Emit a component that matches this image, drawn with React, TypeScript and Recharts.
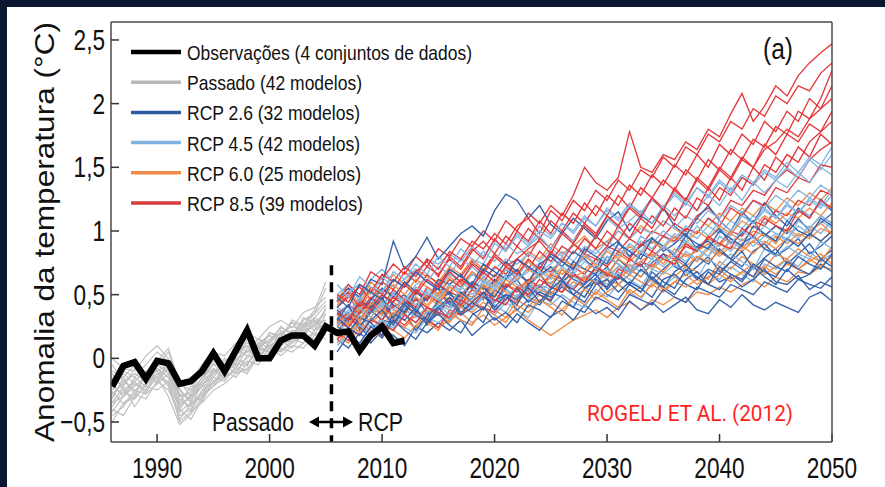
import { LineChart, Line, XAxis, YAxis, ReferenceLine } from 'recharts';

// Temperature anomaly (°C, relative to 1986–2005), values stored in hundredths of a degree.
const YEAR_FIRST = 1986;
const YEAR_LAST = 2050;
const PAST_FIRST = 1986;
const RCP_FIRST = 2006;

const xTicks = [1990, 2000, 2010, 2020, 2030, 2040, 2050];
const yTicks = [-0.5, 0, 0.5, 1, 1.5, 2, 2.5];

// observations, 1986–2012
const observed = [
  -22, -6, -3, -16, -2, -4, -20, -18, -10, 4, -10, 6, 22, 0, 0, 14, 18, 18, 10, 25, 20, 21, 6, 18, 25, 12, 14,
];

// historical model runs, 1986–2005
const pastRuns = [
  [-28, -20, -12, -18, -8, -15, -38, -30, -18, -10, -14, -2, 6, 2, 10, 16, 12, 20, 26, 30],
  [-35, -30, -22, -15, -10, -20, -45, -40, -25, -20, -8, -5, 0, 8, 5, 15, 22, 18, 28, 35],
  [-18, -10, -15, -5, 5, -2, -30, -28, -15, -5, -10, 5, 12, 8, 15, 20, 25, 22, 30, 22],
  [-45, -38, -25, -28, -20, -12, -40, -48, -32, -18, -15, -10, -2, -5, 8, 5, 12, 18, 15, 25],
  [-22, -28, -18, -10, -15, -5, -25, -35, -28, -12, -5, -8, 8, 15, 10, 12, 20, 28, 22, 40],
  [-30, -18, -25, -20, -5, -10, -35, -22, -20, -15, -2, 0, -5, 10, 18, 12, 18, 25, 30, 18],
  [-10, -15, -5, -12, -2, 8, -20, -25, -10, 0, -5, 10, 5, 15, 12, 25, 18, 30, 35, 45],
  [-40, -45, -30, -22, -25, -18, -50, -42, -35, -25, -20, -12, -8, 0, -2, 8, 5, 12, 20, 15],
  [-25, -12, -20, -25, -12, -8, -28, -32, -22, -8, -12, 2, 10, 5, 20, 18, 28, 25, 35, 55],
  [-15, -22, -8, -15, -10, -5, -32, -38, -20, -12, 0, -5, 15, 10, 5, 22, 15, 32, 28, 30],
  [-50, -35, -28, -32, -18, -25, -42, -35, -28, -22, -15, -8, -12, 2, 8, 2, 10, 8, 18, 22],
  [0, -8, -10, 2, 10, 0, -22, -18, -5, 5, 2, 12, 20, 15, 25, 30, 24, 36, 40, 48],
  [-38, -25, -32, -20, -12, -22, -48, -36, -30, -15, -18, -6, -10, 5, 2, 10, 15, 12, 22, 28],
  [-20, -30, -15, -22, -8, -15, -28, -42, -25, -10, -15, 0, 5, 12, 18, 14, 20, 26, 18, 35],
  [-32, -15, -28, -10, -18, -8, -36, -30, -22, -20, -5, -12, 2, 0, 12, 20, 16, 24, 32, 26],
  [-12, -25, -18, -28, -5, -12, -24, -34, -18, -4, -8, 8, 2, 12, 8, 18, 28, 20, 26, 38],
  [-42, -30, -20, -25, -15, -30, -52, -44, -30, -22, -10, -15, -4, 5, 10, 6, 14, 22, 25, 20],
  [-26, -36, -30, -12, -20, -2, -30, -26, -15, -8, -16, 4, 10, -2, 14, 24, 20, 15, 32, 42],
  [-5, -18, -12, -18, -6, 5, -18, -30, -15, -2, -8, 2, 18, 8, 20, 16, 30, 26, 38, 60],
  [-35, -22, -38, -25, -15, -18, -40, -28, -34, -18, -12, -4, -6, 10, 4, 14, 8, 20, 14, 28],
];

// scenario runs, 2006–2050
const rcp26 = [
  [28, 36, 22, 40, 45, 30, 38, 48, 35, 44, 52, 40, 47, 58, 44, 55, 62, 48, 57, 50, 60, 68, 55, 63, 72, 58, 66, 74, 62, 70, 78, 65, 72, 80, 68, 76, 84, 70, 79, 86, 74, 82, 90, 78, 85],
  [15, 8, 20, 12, 22, 18, 10, 25, 20, 28, 22, 30, 18, 26, 32, 24, 35, 28, 22, 33, 38, 30, 42, 35, 40, 32, 45, 38, 44, 36, 42, 48, 38, 35, 46, 40, 50, 42, 38, 44, 40, 36, 48, 52, 45],
  [45, 55, 48, 62, 58, 92, 70, 80, 95, 78, 88, 98, 104, 96, 116, 129, 124, 110, 120, 105, 98, 110, 102, 94, 108, 115, 100, 112, 106, 118, 104, 96, 110, 120, 108, 100, 115, 106, 122, 112, 104, 118, 110, 125, 116],
  [35, 28, 42, 38, 30, 45, 50, 36, 48, 55, 42, 50, 58, 46, 62, 54, 48, 60, 66, 55, 70, 62, 58, 72, 65, 78, 70, 64, 75, 82, 72, 68, 80, 74, 86, 78, 72, 84, 90, 80, 86, 94, 82, 88, 96],
  [20, 32, 25, 15, 30, 28, 36, 22, 34, 40, 30, 42, 36, 28, 45, 50, 38, 46, 42, 52, 48, 40, 55, 60, 50, 46, 58, 52, 64, 56, 50, 62, 68, 58, 54, 66, 60, 72, 64, 58, 70, 62, 66, 74, 68],
  [40, 50, 35, 46, 55, 48, 60, 52, 45, 62, 58, 66, 55, 70, 64, 76, 68, 60, 74, 80, 72, 84, 78, 70, 86, 92, 80, 88, 95, 84, 90, 98, 86, 94, 102, 90, 98, 108, 96, 104, 98, 110, 100, 106, 114],
  [25, 20, 32, 28, 18, 35, 30, 40, 26, 38, 45, 34, 40, 50, 38, 46, 55, 44, 52, 48, 56, 50, 44, 58, 62, 52, 60, 55, 48, 62, 66, 58, 54, 68, 60, 64, 56, 62, 70, 60, 58, 65, 54, 60, 56],
  [38, 30, 45, 40, 50, 42, 36, 52, 46, 58, 50, 45, 60, 55, 48, 62, 70, 58, 65, 72, 62, 76, 70, 66, 80, 74, 68, 82, 78, 88, 80, 74, 88, 92, 84, 78, 90, 96, 86, 82, 94, 88, 98, 92, 100],
  [30, 42, 25, 36, 48, 32, 44, 38, 30, 46, 40, 52, 44, 38, 54, 48, 42, 58, 50, 45, 60, 54, 48, 62, 56, 66, 58, 52, 68, 60, 55, 70, 64, 58, 72, 66, 62, 74, 68, 64, 76, 70, 66, 78, 72],
  [5, 18, 12, 25, 16, 30, 22, 15, 28, 35, 26, 20, 34, 40, 30, 36, 28, 42, 38, 32, 45, 40, 36, 48, 44, 38, 50, 46, 42, 54, 48, 44, 56, 52, 48, 58, 54, 50, 60, 56, 52, 62, 58, 55, 64],
  [48, 40, 58, 52, 46, 62, 56, 68, 60, 54, 70, 64, 58, 74, 68, 62, 78, 72, 66, 82, 76, 70, 86, 80, 74, 90, 84, 78, 94, 88, 82, 96, 90, 86, 100, 94, 88, 104, 98, 92, 108, 100, 96, 110, 104],
  [32, 24, 18, 30, 38, 26, 42, 34, 28, 40, 48, 36, 44, 52, 40, 50, 46, 56, 44, 54, 62, 50, 58, 66, 54, 64, 58, 70, 62, 56, 68, 74, 62, 70, 66, 76, 70, 64, 78, 72, 68, 80, 74, 70, 82],
];

const rcp45 = [
  [32, 26, 38, 44, 35, 48, 40, 52, 46, 55, 50, 60, 54, 64, 58, 70, 62, 68, 75, 66, 80, 72, 78, 86, 76, 90, 84, 92, 86, 96, 90, 100, 94, 104, 98, 108, 102, 112, 106, 116, 108, 118, 112, 122, 116],
  [50, 58, 45, 62, 70, 60, 72, 66, 78, 74, 82, 76, 88, 80, 92, 86, 98, 90, 104, 96, 106, 100, 112, 104, 118, 110, 122, 114, 126, 118, 128, 120, 134, 126, 138, 130, 142, 136, 146, 140, 150, 142, 156, 148, 160],
  [15, 22, 10, 26, 18, 30, 24, 20, 32, 28, 36, 30, 26, 40, 34, 44, 38, 32, 46, 42, 50, 44, 40, 54, 48, 58, 52, 46, 60, 56, 64, 58, 54, 68, 62, 72, 66, 60, 74, 70, 78, 72, 84, 76, 82],
  [40, 35, 48, 42, 55, 50, 46, 58, 62, 54, 66, 60, 72, 64, 70, 78, 74, 82, 76, 86, 80, 90, 84, 96, 88, 100, 94, 102, 98, 108, 102, 112, 106, 116, 110, 120, 114, 124, 118, 128, 122, 132, 126, 136, 130],
  [22, 30, 26, 18, 34, 30, 38, 34, 28, 42, 38, 46, 42, 50, 44, 54, 48, 58, 52, 60, 56, 64, 60, 68, 62, 72, 66, 76, 70, 80, 74, 84, 78, 88, 82, 92, 86, 96, 90, 98, 94, 104, 98, 108, 102],
  [36, 42, 30, 46, 40, 52, 44, 56, 50, 46, 58, 54, 66, 60, 56, 70, 64, 76, 68, 74, 84, 76, 88, 82, 92, 86, 80, 96, 90, 100, 94, 104, 98, 110, 102, 96, 112, 106, 116, 110, 120, 114, 124, 118, 128],
  [28, 20, 34, 24, 30, 22, 38, 32, 40, 36, 30, 44, 38, 48, 42, 36, 50, 46, 56, 50, 60, 54, 48, 62, 58, 68, 62, 56, 70, 66, 74, 68, 62, 78, 72, 82, 76, 70, 86, 80, 88, 82, 78, 92, 86],
  [46, 52, 58, 50, 64, 56, 62, 70, 60, 72, 66, 78, 72, 84, 76, 90, 82, 88, 96, 86, 98, 92, 104, 96, 110, 102, 108, 116, 106, 120, 112, 122, 116, 128, 120, 134, 124, 138, 130, 140, 134, 146, 138, 150, 144],
  [30, 38, 45, 36, 42, 50, 44, 38, 54, 48, 58, 52, 46, 62, 56, 66, 60, 72, 64, 70, 76, 68, 82, 74, 86, 80, 90, 84, 94, 88, 98, 92, 104, 96, 108, 100, 112, 106, 118, 110, 122, 114, 126, 120, 132],
  [10, 18, 26, 20, 30, 24, 34, 28, 36, 42, 34, 46, 40, 50, 44, 48, 56, 50, 58, 54, 62, 56, 66, 60, 70, 64, 74, 68, 78, 72, 82, 76, 86, 80, 90, 84, 94, 88, 96, 92, 100, 94, 104, 98, 108],
  [58, 48, 64, 56, 52, 68, 62, 74, 66, 80, 72, 86, 78, 74, 90, 84, 96, 88, 100, 94, 106, 98, 110, 104, 116, 108, 120, 114, 124, 118, 130, 122, 134, 128, 140, 132, 144, 138, 148, 142, 154, 146, 158, 152, 166],
  [26, 34, 40, 32, 44, 38, 48, 42, 52, 46, 40, 56, 50, 60, 54, 64, 58, 52, 68, 62, 72, 66, 76, 70, 80, 74, 68, 84, 78, 88, 82, 92, 86, 80, 96, 90, 100, 94, 104, 98, 92, 108, 102, 112, 106],
];

const rcp60 = [
  [30, 36, 28, 40, 34, 44, 38, 46, 40, 50, 44, 52, 48, 56, 50, 58, 54, 62, 56, 64, 60, 66, 62, 70, 64, 72, 68, 76, 70, 78, 74, 82, 76, 86, 80, 88, 84, 92, 86, 96, 90, 98, 94, 102, 98],
  [18, 12, 24, 20, 28, 22, 16, 26, 32, 24, 30, 36, 28, 34, 26, 32, 38, 30, 24, 18, 24, 30, 34, 38, 32, 40, 44, 38, 46, 42, 48, 44, 52, 50, 56, 52, 58, 62, 56, 64, 60, 68, 66, 72, 70],
  [48, 55, 42, 60, 52, 66, 58, 70, 64, 60, 72, 66, 78, 70, 82, 74, 68, 84, 78, 90, 82, 88, 96, 86, 92, 100, 94, 104, 98, 108, 102, 96, 110, 104, 114, 108, 118, 112, 122, 116, 126, 120, 130, 124, 134],
  [25, 32, 38, 28, 36, 30, 42, 36, 32, 44, 40, 48, 44, 38, 50, 46, 54, 48, 44, 56, 52, 60, 56, 50, 62, 58, 66, 60, 56, 68, 64, 72, 68, 62, 76, 70, 80, 74, 70, 82, 78, 86, 80, 76, 88],
  [38, 30, 46, 40, 36, 50, 44, 54, 48, 42, 56, 50, 60, 54, 66, 58, 62, 70, 64, 72, 66, 74, 70, 78, 72, 82, 76, 84, 80, 88, 82, 90, 86, 94, 88, 98, 92, 100, 96, 104, 100, 108, 102, 112, 106],
  [22, 28, 20, 32, 26, 36, 30, 24, 38, 34, 28, 40, 36, 44, 38, 32, 46, 40, 50, 44, 38, 48, 54, 46, 52, 58, 50, 56, 62, 54, 60, 66, 58, 64, 70, 62, 68, 74, 66, 72, 78, 70, 76, 82, 74],
  [34, 26, 40, 32, 46, 38, 34, 48, 42, 52, 46, 40, 54, 48, 58, 52, 46, 60, 54, 50, 62, 56, 64, 58, 68, 62, 70, 64, 74, 68, 78, 72, 80, 76, 84, 78, 88, 82, 92, 86, 94, 90, 98, 92, 100],
  [42, 50, 36, 54, 46, 58, 50, 62, 56, 50, 64, 58, 68, 62, 56, 72, 66, 76, 70, 64, 78, 72, 80, 74, 84, 78, 88, 82, 92, 86, 96, 90, 100, 94, 104, 98, 108, 102, 112, 106, 114, 110, 118, 112, 122],
  [12, 20, 28, 22, 16, 30, 24, 34, 28, 22, 36, 30, 26, 40, 34, 28, 42, 36, 46, 40, 34, 48, 42, 52, 46, 40, 54, 48, 58, 52, 60, 56, 62, 58, 66, 60, 68, 64, 72, 66, 74, 70, 78, 72, 80],
  [28, 35, 30, 44, 38, 34, 48, 42, 52, 46, 56, 50, 44, 58, 52, 62, 56, 60, 66, 58, 70, 64, 68, 74, 66, 78, 72, 76, 82, 74, 86, 80, 84, 90, 82, 94, 88, 92, 98, 90, 102, 96, 100, 106, 98],
];

const rcp85 = [
  [28, 36, 30, 42, 35, 40, 46, 38, 50, 44, 52, 48, 58, 50, 62, 56, 66, 60, 72, 68, 76, 70, 82, 78, 88, 84, 94, 88, 100, 96, 106, 100, 112, 118, 110, 124, 120, 132, 128, 140, 148, 142, 156, 164, 170],
  [45, 58, 50, 68, 62, 74, 66, 80, 72, 86, 80, 94, 88, 100, 92, 108, 100, 114, 106, 120, 112, 128, 150, 138, 132, 142, 178, 150, 146, 160, 156, 170, 164, 180, 174, 192, 208, 186, 198, 214, 206, 222, 232, 240, 247],
  [38, 30, 46, 40, 55, 48, 60, 52, 66, 58, 70, 64, 76, 68, 82, 74, 88, 80, 94, 86, 100, 92, 106, 98, 112, 104, 120, 112, 126, 118, 132, 124, 140, 132, 148, 140, 156, 150, 164, 170, 180, 174, 188, 196, 204],
  [20, 14, 28, 22, 18, 32, 26, 36, 30, 24, 38, 34, 44, 40, 36, 48, 44, 54, 50, 46, 58, 54, 64, 60, 56, 70, 66, 76, 72, 82, 78, 88, 84, 94, 90, 100, 96, 108, 104, 116, 112, 124, 120, 132, 128],
  [34, 42, 36, 48, 40, 54, 46, 40, 56, 50, 62, 56, 68, 60, 72, 66, 78, 70, 84, 76, 88, 82, 94, 86, 100, 92, 106, 98, 112, 104, 118, 110, 126, 120, 134, 128, 142, 136, 152, 146, 160, 154, 170, 178, 186],
  [40, 48, 56, 46, 60, 54, 68, 60, 72, 66, 78, 70, 84, 92, 82, 96, 88, 102, 94, 108, 100, 114, 106, 120, 112, 128, 118, 134, 126, 140, 132, 148, 140, 156, 148, 164, 156, 172, 166, 182, 176, 194, 188, 204, 226],
  [26, 34, 24, 38, 30, 42, 36, 46, 40, 34, 48, 42, 54, 48, 44, 58, 52, 62, 56, 66, 62, 72, 66, 78, 72, 84, 78, 90, 84, 96, 92, 102, 98, 110, 104, 118, 112, 124, 120, 134, 130, 142, 138, 152, 150],
  [50, 44, 58, 52, 66, 60, 72, 64, 78, 70, 84, 78, 92, 86, 98, 90, 104, 110, 98, 116, 108, 124, 116, 132, 124, 140, 132, 148, 142, 158, 150, 166, 160, 176, 170, 186, 180, 196, 190, 206, 200, 214, 210, 224, 232],
  [30, 24, 36, 44, 38, 48, 42, 54, 46, 58, 52, 62, 56, 68, 60, 72, 66, 78, 70, 84, 76, 90, 82, 96, 88, 104, 94, 110, 102, 118, 108, 126, 116, 134, 124, 142, 132, 150, 140, 158, 150, 166, 158, 176, 168],
  [44, 52, 40, 56, 50, 62, 56, 68, 76, 64, 80, 72, 86, 78, 94, 84, 100, 92, 108, 98, 114, 106, 122, 112, 128, 120, 136, 128, 144, 136, 152, 144, 160, 150, 168, 160, 176, 168, 186, 178, 194, 186, 204, 196, 214],
  [15, 24, 18, 30, 26, 22, 34, 28, 40, 36, 32, 46, 40, 52, 46, 42, 56, 50, 62, 56, 52, 66, 60, 72, 66, 62, 78, 72, 84, 78, 74, 90, 84, 96, 90, 86, 102, 96, 110, 104, 100, 116, 110, 124, 118],
  [36, 30, 44, 38, 50, 44, 58, 50, 62, 56, 68, 60, 74, 66, 80, 72, 78, 86, 92, 82, 98, 90, 104, 96, 112, 104, 118, 110, 126, 116, 134, 124, 142, 134, 150, 142, 158, 150, 168, 160, 176, 170, 184, 178, 194],
];

const scenarios = [
  { id: 'r45', color: '#84b6e2', runs: rcp45 },
  { id: 'r60', color: '#f08c46', runs: rcp60 },
  { id: 'r85', color: '#e5383a', runs: rcp85 },
  { id: 'r26', color: '#3562ad', runs: rcp26 },
];

const legendItems = [
  { label: 'Observações (4 conjuntos de dados)', color: '#000000', width: 4.5, textLen: 285 },
  { label: 'Passado (42 modelos)', color: '#b8b8b8', width: 3.5, textLen: 175 },
  { label: 'RCP 2.6 (32 modelos)', color: '#2d5a9e', width: 3.5, textLen: 173 },
  { label: 'RCP 4.5 (42 modelos)', color: '#80b3df', width: 3.5, textLen: 173 },
  { label: 'RCP 6.0 (25 modelos)', color: '#ec8a4a', width: 3.5, textLen: 174 },
  { label: 'RCP 8.5 (39 modelos)', color: '#d83c3c', width: 3.5, textLen: 176 },
];

const years: number[] = [];
for (let y = YEAR_FIRST; y <= YEAR_LAST; y++) years.push(y);

const rows = years.map((year) => {
  const row: Record<string, number | undefined> = { year };
  const oi = year - YEAR_FIRST;
  if (oi < observed.length) row.obs = observed[oi] / 100;
  const pi = year - PAST_FIRST;
  pastRuns.forEach((run, k) => {
    if (pi >= 0 && pi < run.length) row[`past${k}`] = run[pi] / 100;
  });
  const ri = year - RCP_FIRST;
  scenarios.forEach((s) => {
    s.runs.forEach((run, k) => {
      if (ri >= 0 && ri < run.length) row[`${s.id}_${k}`] = run[ri] / 100;
    });
  });
  return row;
});

// interleave scenario runs so no single colour sits entirely on top
const maxRuns = Math.max(...scenarios.map((s) => s.runs.length));
const rcpKeys: { key: string; color: string }[] = [];
for (let k = 0; k < maxRuns; k++) {
  scenarios.forEach((s) => {
    if (k < s.runs.length) rcpKeys.push({ key: `${s.id}_${k}`, color: s.color });
  });
}

const X_DOMAIN: [number, number] = [1985.9, 2050];
const Y_DOMAIN: [number, number] = [-0.657, 2.641];

const SANS = "'Liberation Sans', Arial, sans-serif";
const frame = { stroke: '#4a4a4a', strokeWidth: 1.5 };
const tickStroke = { stroke: '#333', strokeWidth: 1.5 };

const fmtY = (v: number) => String(v).replace('.', ',').replace('-', '\u2212');

// condensed tick labels: regular sans squeezed horizontally
const XTick = ({ x, y, payload }: any) => (
  <g transform={`translate(${x},${y})`}>
    <text transform="scale(0.78,1)" y={20} textAnchor="middle" fontSize={29} fontFamily={SANS} fill="#111">
      {payload.value}
    </text>
  </g>
);

const YTick = ({ x, y, payload }: any) => (
  <g transform={`translate(${x},${y})`}>
    <text transform="scale(0.78,1)" y={10} textAnchor="end" fontSize={29} fontFamily={SANS} fill="#111">
      {fmtY(payload.value)}
    </text>
  </g>
);

export default function App() {
  return (
    <div
      style={{
        position: 'fixed',
        left: 0,
        top: 0,
        width: 885,
        height: 487,
        background: '#0b1731',
        fontFamily: SANS,
      }}
    >
      <div style={{ position: 'absolute', left: 7, top: 7, right: 0, bottom: 0, background: '#ffffff' }} />
      <div style={{ position: 'absolute', left: 0, top: 0 }}>
        {/* axes take 1px each so they still render; the margins make up the rest */}
        <LineChart width={885} height={487} data={rows} margin={{ top: 21, right: 52, bottom: 44, left: 110 }}>
          <XAxis
            dataKey="year"
            type="number"
            domain={X_DOMAIN}
            allowDataOverflow
            ticks={xTicks}
            height={1}
            axisLine={frame}
            tickLine={tickStroke}
            tickSize={-8}
            tickMargin={24}
            tick={<XTick />}
          />
          <XAxis
            xAxisId="top"
            orientation="top"
            dataKey="year"
            type="number"
            domain={X_DOMAIN}
            allowDataOverflow
            ticks={xTicks}
            height={1}
            axisLine={frame}
            tickLine={tickStroke}
            tickSize={-8}
            tick={false}
          />
          <YAxis
            type="number"
            domain={Y_DOMAIN}
            allowDataOverflow
            ticks={yTicks}
            width={1}
            axisLine={frame}
            tickLine={tickStroke}
            tickSize={-8}
            tickMargin={14}
            tick={<YTick />}
          />
          <YAxis
            yAxisId="right"
            orientation="right"
            type="number"
            domain={Y_DOMAIN}
            allowDataOverflow
            ticks={yTicks}
            width={1}
            axisLine={frame}
            tickLine={tickStroke}
            tickSize={-8}
            tick={false}
          />
          {pastRuns.map((_, k) => (
            <Line
              key={`past${k}`}
              dataKey={`past${k}`}
              type="linear"
              stroke="#c0c0c0"
              strokeWidth={1.2}
              dot={false}
              activeDot={false}
              isAnimationActive={false}
            />
          ))}
          {rcpKeys.map((r) => (
            <Line
              key={r.key}
              dataKey={r.key}
              type="linear"
              stroke={r.color}
              strokeWidth={1.35}
              dot={false}
              activeDot={false}
              isAnimationActive={false}
            />
          ))}
          <Line
            dataKey="obs"
            type="linear"
            stroke="#000"
            strokeWidth={6.5}
            strokeLinejoin="miter"
            dot={false}
            activeDot={false}
            isAnimationActive={false}
          />
          <ReferenceLine
            segment={[
              { x: 2005.5, y: 0.73 },
              { x: 2005.5, y: Y_DOMAIN[0] },
            ]}
            stroke="#000"
            strokeWidth={3.5}
            strokeDasharray="10 7"
          />
        </LineChart>
      </div>
      <svg
        width={885}
        height={487}
        style={{ position: 'absolute', left: 0, top: 0, pointerEvents: 'none' }}
        fontFamily={SANS}
      >
        <text
          transform="translate(54, 232) rotate(-90)"
          textAnchor="middle"
          fontSize={28}
          fill="#111"
          textLength={420}
          lengthAdjust="spacingAndGlyphs"
        >
          Anomalia da temperatura (°C)
        </text>
        {legendItems.map((item, i) => {
          const cy = 52 + i * 30.2;
          return (
            <g key={item.label}>
              <line x1={131} x2={181} y1={cy} y2={cy} stroke={item.color} strokeWidth={item.width} />
              <text
                x={187}
                y={cy + 8}
                fontSize={21}
                fill="#111"
                textLength={item.textLen}
                lengthAdjust="spacingAndGlyphs"
              >
                {item.label}
              </text>
            </g>
          );
        })}
        <text x={763} y={59} fontSize={29} fill="#111" textLength={30} lengthAdjust="spacingAndGlyphs">
          (a)
        </text>
        <text x={212} y={431} fontSize={25} fill="#111" textLength={82} lengthAdjust="spacingAndGlyphs">
          Passado
        </text>
        <line x1={316} x2={346} y1={422} y2={422} stroke="#000" strokeWidth={2.5} />
        <polygon points="309,422 319,416.5 319,427.5" fill="#000" />
        <polygon points="353,422 343,416.5 343,427.5" fill="#000" />
        <text x={358} y={431} fontSize={25} fill="#111" textLength={45} lengthAdjust="spacingAndGlyphs">
          RCP
        </text>
        <text
          x={587}
          y={421}
          fontSize={22}
          fill="#ff1f1f"
          fontFamily="Roboto, 'Liberation Sans', sans-serif"
          textLength={206}
          lengthAdjust="spacingAndGlyphs"
        >
          ROGELJ ET AL. (2012)
        </text>
      </svg>
    </div>
  );
}
